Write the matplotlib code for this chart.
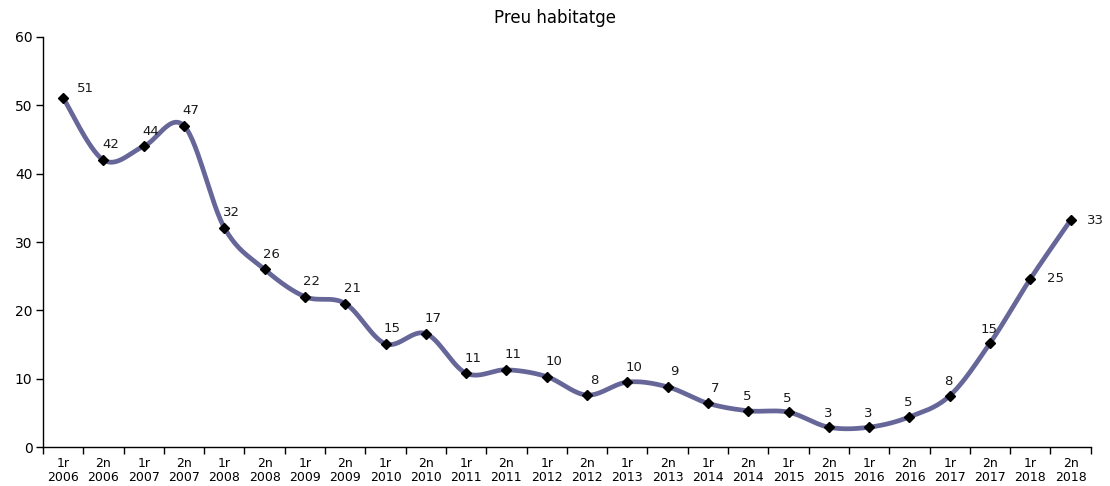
import numpy as np
import matplotlib.pyplot as plt
from matplotlib.ticker import FixedLocator

plt.rcParams['font.family'] = ['DejaVu Sans']

semesters = ['1r', '2n'] * 13
years = [str(y) for y in range(2006, 2019) for _ in range(2)]
values = [51.1, 42.0, 44.0, 47.0, 32.1, 26.0, 22.0, 21.0, 15.1, 16.6,
          10.8, 11.3, 10.3, 7.6, 9.5, 8.8, 6.4, 5.3, 5.1, 2.9,
          2.9, 4.4, 7.5, 15.2, 24.6, 33.2]
labels = [51, 42, 44, 47, 32, 26, 22, 21, 15, 17, 11, 11, 10, 8, 10, 9,
          7, 5, 5, 3, 3, 5, 8, 15, 25, 33]


def smooth(x, y, n=30):
    # Excel style smoothed line: Catmull-Rom through the points as cubic Beziers
    x = np.asarray(x, float)
    y = np.asarray(y, float)
    px = np.concatenate([[x[0]], x, [x[-1]]])
    py = np.concatenate([[y[0]], y, [y[-1]]])
    t = np.linspace(0, 1, n)[:, None]
    xs, ys = [], []
    for i in range(1, len(px) - 2):
        p0 = np.array([px[i], py[i]])
        p3 = np.array([px[i + 1], py[i + 1]])
        p1 = p0 + (np.array([px[i + 1], py[i + 1]]) - np.array([px[i - 1], py[i - 1]])) / 6
        p2 = p3 - (np.array([px[i + 2], py[i + 2]]) - np.array([px[i], py[i]])) / 6
        b = ((1 - t) ** 3) * p0 + 3 * ((1 - t) ** 2) * t * p1 + 3 * (1 - t) * t ** 2 * p2 + t ** 3 * p3
        xs.append(b[:, 0])
        ys.append(b[:, 1])
    return np.concatenate(xs), np.concatenate(ys)


fig = plt.figure(figsize=(11.1, 4.86), dpi=100)
ax = fig.add_axes([0.0387, 0.0802, 0.9440, 0.8437])

x = np.arange(len(values))
sx, sy = smooth(x, values)
ax.plot(sx, sy, color='#666699', lw=3.4, solid_capstyle='round', zorder=2)
ax.plot(x, values, linestyle='none', marker='D', ms=4.8, color='black', zorder=3)

n = len(values)
for i, (v, lab) in enumerate(zip(values, labels)):
    if i == 0:
        off = (22, 9)
    elif i >= n - 2:
        off = (25, 0)
    elif i < 17:
        off = (7, 15)
    else:
        off = (-1, 14)
    ax.annotate(str(lab), (i, v), xytext=off, textcoords='offset pixels',
                ha='center', va='center', fontsize=9.5, color='#1a1a1a')

ax.set_xlim(-0.5, n - 0.5)
ax.set_ylim(0, 60)
ax.set_yticks(range(0, 61, 10))
ax.set_xticks(x)
ax.set_xticklabels([s + '\n' + y for s, y in zip(semesters, years)], fontsize=9,
                   linespacing=1.15)
ax.xaxis.set_minor_locator(FixedLocator(np.arange(-0.5, n, 1)))
ax.tick_params(axis='x', which='major', length=0, pad=7)
ax.tick_params(axis='x', which='minor', length=5, width=1, direction='out')
ax.tick_params(axis='y', length=5, width=1, labelsize=10, pad=2.5)
for s in ['top', 'right']:
    ax.spines[s].set_visible(False)
for s in ['left', 'bottom']:
    ax.spines[s].set_linewidth(1)

fig.text(0.5, 1 - 23 / 486, 'Preu habitatge', ha='center', va='baseline', fontsize=12)

fig.savefig('out.png', dpi=100)
